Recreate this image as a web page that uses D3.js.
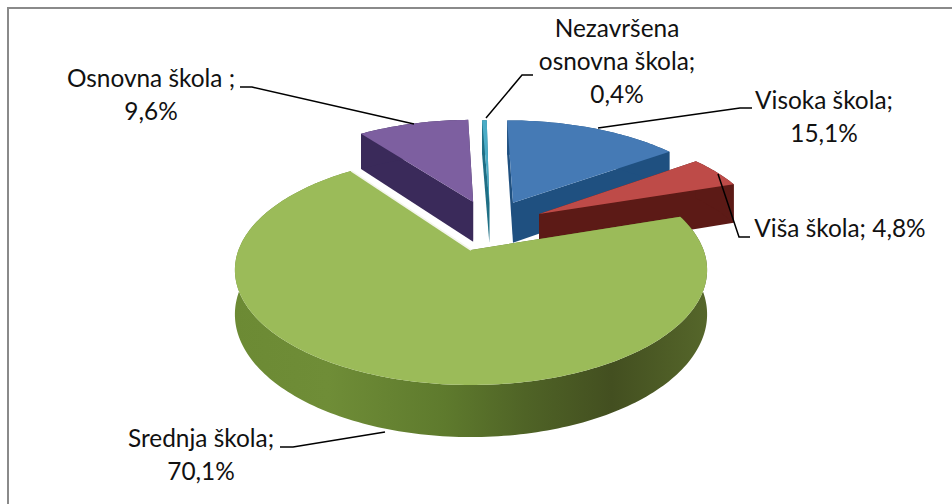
<!DOCTYPE html>
<html>
<head>
<meta charset="utf-8">
<script src="https://cdn.jsdelivr.net/npm/d3@7"></script>
<style>
  html, body { margin: 0; padding: 0; background: #fff; }
  svg { display: block; }
  text { font-family: Lato, "Open Sans", sans-serif; font-size: 24.4px; fill: #111; }
</style>
</head>
<body>
<svg></svg>
<script>
// Data
const categories = ["Visoka škola", "Viša škola", "Srednja škola", "Osnovna škola", "Nezavršena osnovna škola"];
const values = [15.1, 4.8, 70.1, 9.6, 0.4];

// Colors, same order as categories
const topColors = ["#457ab5", "#be4b48", "#9bbb59", "#7d5fa0", "#4bacc6"];
const wallColors = ["#1f5080", "#5c1a16", "#5f7a2e", "#3a2a5a", "#1f6f85"];

// Sizes
const width = 952, height = 504;
const svg = d3.select("svg").attr("width", width).attr("height", height);

// 3D look: disc with perspective
const view = { cx: 471, cy: 250, rx: 232.5, ry: 111.5, k: 0.174, depth: 43 };
// how far each slice is pulled out of the pie (in radii)
const explode = [[0.195, 0.457], [0.31, 0.342], [0, 0], [0.01, 0.465], [0.085, 0.46]];

const project = ([x, z], down = 0) => {
  const s = 1 / (1 + view.k * z);
  return [view.cx + view.rx * x * s, view.cy - view.ry * z * s + view.depth * down * s];
};

const pie = d3.pie().sort(null).value(d => d);
const slices = pie(values);

const line = d3.line();
const rimPoints = (d, i) => {
  const [ox, oz] = explode[i];
  const n = Math.max(2, Math.ceil((d.endAngle - d.startAngle) / 0.02));
  return d3.range(n + 1).map(j => {
    const a = d.startAngle + (d.endAngle - d.startAngle) * j / n;
    return [ox + Math.sin(a), oz + Math.cos(a)];
  });
};

// Gradient on the green side wall
const defs = svg.append("defs");
const grad = defs.append("linearGradient")
  .attr("id", "greenWall")
  .attr("gradientUnits", "userSpaceOnUse")
  .attr("x1", 233).attr("x2", 706).attr("y1", 0).attr("y2", 0);
[[0, "#6c8a34"], [0.2, "#6f8d37"], [0.45, "#5e7a2d"], [0.62, "#4f6326"], [0.8, "#434f20"], [1, "#55662a"]]
  .forEach(([o, c]) => grad.append("stop").attr("offset", o).attr("stop-color", c));

// Frame, only top and left are visible
svg.append("path")
  .attr("d", line([[8, height], [8, 8], [width, 8]]))
  .attr("fill", "none")
  .attr("stroke", "#8a8a8a")
  .attr("stroke-width", 2);

// Slices, back to front
const drawOrder = [3, 4, 0, 1, 2];
drawOrder.forEach(i => {
  const d = slices[i];
  const rim = rimPoints(d, i);
  const apex = explode[i];
  const g = svg.append("g").attr("class", "slice");

  // radial walls
  [rim[0], rim[rim.length - 1]].forEach(p => {
    g.append("path")
      .attr("d", line([project(apex), project(p), project(p, 1), project(apex, 1)]) + "Z")
      .attr("fill", wallColors[i]);
  });

  // outer wall
  const wall = rim.map(p => project(p)).concat(rim.slice().reverse().map(p => project(p, 1)));
  g.append("path")
    .attr("d", line(wall) + "Z")
    .attr("fill", i === 2 ? "url(#greenWall)" : wallColors[i]);

  // top face
  g.append("path")
    .attr("d", line([project(apex)].concat(rim.map(p => project(p)))) + "Z")
    .attr("fill", topColors[i]);

  // light edge where green meets the purple slice
  if (i === 2) {
    g.append("path")
      .attr("d", line([project(apex), project(rim[rim.length - 1])]))
      .attr("stroke", "#f4f6ec")
      .attr("stroke-width", 1.6);
  }
});

// Labels
const labelLines = [
  ["Visoka škola;", "15,1%"],
  ["Viša škola; 4,8%"],
  ["Srednja škola;", "70,1%"],
  ["Osnovna škola ;", "9,6%"],
  ["Nezavršena", "osnovna škola;", "0,4%"]
];
const labelPos = [[824, 109], [840, 237], [201, 447], [151, 87], [617, 37]];
const lineStep = 33;

labelLines.forEach((lines, i) => {
  lines.forEach((t, j) => {
    svg.append("text")
      .attr("x", labelPos[i][0])
      .attr("y", labelPos[i][1] + j * lineStep)
      .attr("text-anchor", "middle")
      .text(t);
  });
});

// Leader lines
const leaders = [
  [[752, 108], [740, 108], [598, 128]],
  [[750, 237], [739, 237], [718, 174]],
  [[280, 447], [293, 447], [385, 432]],
  [[240, 87], [252, 87], [414, 124]],
  [[533, 75], [522, 75], [486, 118]]
];
leaders.forEach(pts => {
  svg.append("path")
    .attr("d", line(pts))
    .attr("fill", "none")
    .attr("stroke", "#000")
    .attr("stroke-width", 1.5);
});
</script>
</body>
</html>
